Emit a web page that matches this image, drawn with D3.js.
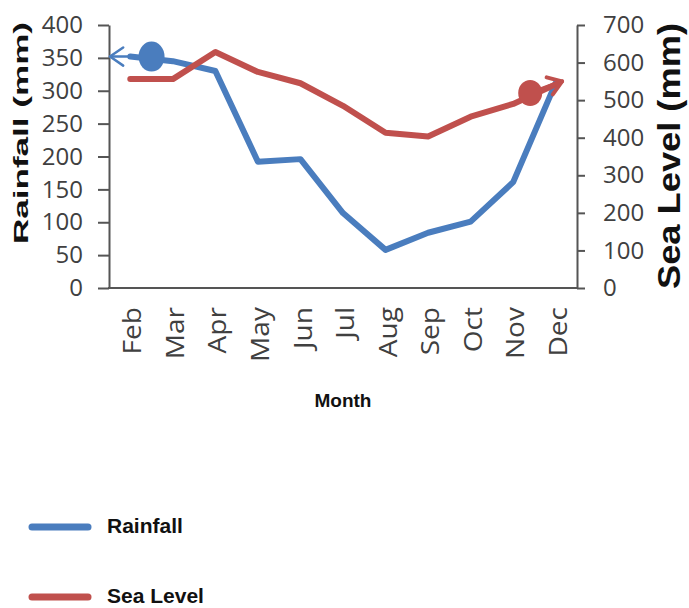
<!DOCTYPE html>
<html>
<head>
<meta charset="utf-8">
<script src="https://cdn.jsdelivr.net/npm/d3@7"></script>
<style>
  html, body { margin: 0; padding: 0; background: #fff; }
  svg { display: block; }
</style>
</head>
<body>
<svg id="chart" width="689" height="608"></svg>
<script>
// Monthly rainfall and sea level
const months = ["Feb", "Mar", "Apr", "May", "Jun", "Jul", "Aug", "Sep", "Oct", "Nov", "Dec"];
const rainfall = [352, 345, 330, 192, 196, 114, 58, 84, 101, 161, 312];
const seaLevel = [556, 556, 628, 575, 545, 485, 413, 403, 456, 490, 542];
const rainTicks = [0, 50, 100, 150, 200, 250, 300, 350, 400];
const seaTicks = [0, 100, 200, 300, 400, 500, 600, 700];

// Pointer markers linking each line to its axis (position given as fractional month index + value)
const pointers = [
  { series: "rain", at: 0.5, value: 352, toAt: -0.5, toValue: 352 },
  { series: "sea", at: 9.4, value: 519, toAt: 10.15, toValue: 550 }
];

const blue = "#4a7dbe";
const red = "#c0504d";
const ink = "#404040";

const svg = d3.select("#chart");
const plotLeft = 109, plotRight = 577, plotTop = 25, plotBottom = 288;

const x = d3.scaleBand().domain(months).range([plotLeft, plotRight]).padding(0);
const step = x.step();
const cx = d => x(d) + step / 2;
const xAt = i => x(months[0]) + step / 2 + i * step;
const yL = d3.scaleLinear().domain([0, 400]).range([plotBottom, plotTop]);
const yR = d3.scaleLinear().domain([0, 700]).range([plotBottom, plotTop]);

// Left axis
const gL = svg.append("g").attr("transform", `translate(${plotLeft},0)`)
  .call(d3.axisLeft(yL).tickValues(rainTicks).tickSize(11).tickSizeOuter(0).tickPadding(15));
// Right axis
const gR = svg.append("g").attr("transform", `translate(${plotRight},0)`)
  .call(d3.axisRight(yR).tickValues(seaTicks).tickSize(8).tickSizeOuter(0).tickPadding(18));
// Bottom axis
const gB = svg.append("g").attr("transform", `translate(0,${plotBottom})`)
  .call(d3.axisBottom(x).tickSize(0).tickSizeOuter(0).tickPadding(0));

[gL, gR, gB].forEach(g => {
  g.select(".domain").attr("stroke", "#555").attr("stroke-width", 2);
  g.selectAll(".tick line").attr("stroke", "#555").attr("stroke-width", 2);
  g.selectAll("text").attr("fill", ink).attr("font-family", "'Open Sans', sans-serif");
});
gB.select(".domain").attr("d", `M${plotLeft - 1},0H${plotRight + 1}`);
gL.selectAll("text").attr("font-size", 24);
gR.selectAll("text").attr("font-size", 24);
gB.selectAll("text")
  .attr("font-size", 26)
  .attr("text-anchor", "end")
  .attr("dy", "0.35em")
  .attr("y", 0)
  .attr("transform", "translate(2,19) rotate(-90) scale(1.08,1)");

// Axis titles
svg.append("text")
  .attr("transform", `translate(28,133) rotate(-90)`)
  .attr("text-anchor", "middle")
  .attr("font-family", "'Liberation Sans', Arial, sans-serif")
  .attr("font-weight", "bold").attr("font-size", 20)
  .attr("textLength", 222).attr("lengthAdjust", "spacingAndGlyphs")
  .attr("fill", "#111").text("Rainfall (mm)");
svg.append("text")
  .attr("transform", `translate(680,156) rotate(-90)`)
  .attr("text-anchor", "middle")
  .attr("font-family", "'Liberation Sans', Arial, sans-serif")
  .attr("font-weight", "bold").attr("font-size", 32)
  .attr("textLength", 266).attr("lengthAdjust", "spacingAndGlyphs")
  .attr("fill", "#111").text("Sea Level (mm)");
svg.append("text")
  .attr("x", (plotLeft + plotRight) / 2).attr("y", 407)
  .attr("text-anchor", "middle")
  .attr("font-family", "'Liberation Sans', Arial, sans-serif")
  .attr("font-weight", "bold").attr("font-size", 19)
  .attr("fill", "#111").text("Month");

// Series lines
const lineL = d3.line().x((d, i) => cx(months[i])).y(d => yL(d));
const lineR = d3.line().x((d, i) => cx(months[i])).y(d => yR(d));
svg.append("path").attr("d", lineL(rainfall))
  .attr("fill", "none").attr("stroke", blue).attr("stroke-width", 6)
  .attr("stroke-linejoin", "round").attr("stroke-linecap", "round");
svg.append("path").attr("d", lineR(seaLevel))
  .attr("fill", "none").attr("stroke", red).attr("stroke-width", 6)
  .attr("stroke-linejoin", "round").attr("stroke-linecap", "round");

// Axis pointer markers
pointers.forEach(p => {
  const scale = p.series === "rain" ? yL : yR;
  const color = p.series === "rain" ? blue : red;
  const x0 = xAt(p.at), y0 = scale(p.value);
  let x1 = xAt(p.toAt), y1 = scale(p.toValue);
  if (p.series === "rain") x1 = plotLeft + 1;
  const ang = Math.atan2(y1 - y0, x1 - x0);
  const head = 16, spread = 0.6;
  const w = p.series === "rain" ? 2.5 : 4;
  svg.append("line").attr("x1", x0).attr("y1", y0).attr("x2", x1).attr("y2", y1)
    .attr("stroke", color).attr("stroke-width", w).attr("stroke-linecap", "round");
  const hp = d3.path();
  hp.moveTo(x1 - head * Math.cos(ang - spread), y1 - head * Math.sin(ang - spread));
  hp.lineTo(x1, y1);
  hp.lineTo(x1 - head * Math.cos(ang + spread), y1 - head * Math.sin(ang + spread));
  svg.append("path").attr("d", hp.toString())
    .attr("fill", "none").attr("stroke", color).attr("stroke-width", w)
    .attr("stroke-linecap", "round").attr("stroke-linejoin", "round");
  svg.append("ellipse").attr("cx", x0).attr("cy", y0)
    .attr("rx", p.series === "rain" ? 13 : 12).attr("ry", p.series === "rain" ? 15 : 13)
    .attr("fill", color);
});

// Legend
const legend = [
  { name: "Rainfall", color: blue },
  { name: "Sea Level", color: red }
];
const lg = svg.append("g");
legend.forEach((d, i) => {
  const yy = 527 + i * 70;
  lg.append("line").attr("x1", 32).attr("x2", 88).attr("y1", yy).attr("y2", yy)
    .attr("stroke", d.color).attr("stroke-width", 7).attr("stroke-linecap", "round");
  lg.append("text").attr("x", 107).attr("y", yy + 6)
    .attr("font-family", "'Liberation Sans', Arial, sans-serif")
    .attr("font-weight", "bold").attr("font-size", 21)
    .attr("fill", "#111").text(d.name);
});
</script>
</body>
</html>
